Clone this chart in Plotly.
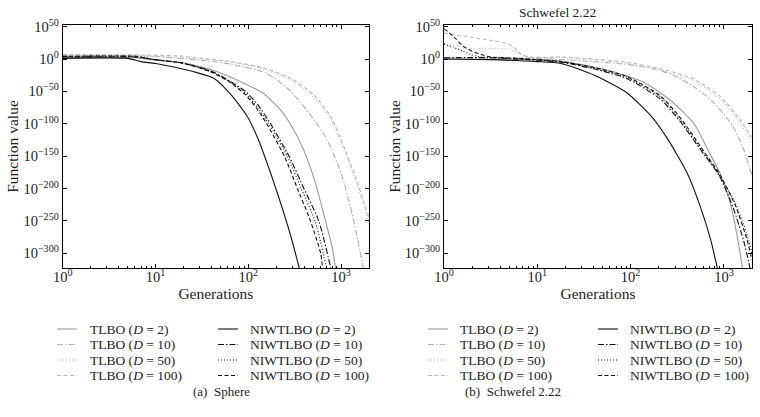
import math
import plotly.graph_objects as go

# ---------------- data (generations, log10 of function value) ----------------
# Sphere
sph_tlbo2_gen = [1, 6, 10, 20, 43, 98, 148, 224, 288, 389, 513, 661, 813, 871]
sph_tlbo2_exp = [2, 2, -2, -6, -18, -40, -54, -79, -102, -138, -185, -243, -295, -323]
sph_tlbo10_gen = [1, 6, 10, 32, 65, 158, 288, 513, 708, 1000, 1259, 1514, 1738]
sph_tlbo10_exp = [5, 5, 4, -2, -8, -22, -50, -94, -125, -176, -228, -279, -323]
sph_tlbo50_gen = [1, 10, 32, 65, 148, 288, 513, 776, 1072, 1413, 1778, 2000]
sph_tlbo50_exp = [5, 4, 0, -5, -16, -33, -60, -93, -140, -185, -230, -255]
sph_tlbo100_gen = [1, 10, 19, 32, 65, 148, 288, 513, 776, 1072, 1413, 1778, 2000]
sph_tlbo100_exp = [7, 6, 4.5, 1, -4, -14, -30, -56, -89, -135, -180, -222, -245]
sph_niw2_gen = [1, 5, 7, 10, 19, 28, 43, 65, 98, 129, 174, 224, 288, 355]
sph_niw2_exp = [1, 1, -4, -7, -15, -21, -30, -55, -89, -125, -176, -223, -274, -323]
sph_niw10_gen = [1, 6, 10, 19, 32, 43, 65, 93, 126, 174, 275, 398, 575, 776]
sph_niw10_exp = [3, 3, -1, -6, -14, -21, -35, -50, -70, -100, -150, -200, -250, -323]
sph_niw50_gen = [1, 6, 10, 19, 32, 43, 65, 93, 126, 166, 263, 372, 525, 700]
sph_niw50_exp = [4, 4, -1, -6, -15, -22, -36, -53, -75, -100, -150, -200, -250, -323]
sph_niw100_gen = [1, 6, 10, 19, 32, 43, 65, 93, 126, 158, 245, 339, 468, 603, 631]
sph_niw100_exp = [4, 4, -1, -6, -15, -22, -37, -55, -78, -100, -150, -200, -250, -300, -323]

# Schwefel 2.22
sch_tlbo2_gen = [1, 10, 18, 60, 138, 269, 479, 661, 933, 1202, 1413, 1585]
sch_tlbo2_exp = [0, -1, -3, -18, -36, -64, -100, -138, -180, -229, -280, -323]
sch_tlbo10_gen = [1, 10, 32, 100, 200, 316, 501, 724, 1000, 1259, 1585, 2000]
sch_tlbo10_exp = [2, 1, -3, -9, -17, -28, -45, -63, -85, -105, -135, -180]
sch_tlbo50_gen = [1, 1.8, 5.2, 7.4, 18, 40, 91, 209, 479, 933, 1514, 2000]
sch_tlbo50_exp = [24, 17, 15, 4, 2, -1, -7, -17, -34, -63, -100, -130]
sch_tlbo100_gen = [1, 3.1, 4.7, 5.6, 6.6, 8.3, 18, 40, 91, 209, 479, 933, 1514, 2000]
sch_tlbo100_exp = [40, 29, 24, 18, 8, 3, 3, 0, -5, -15, -31, -59, -95, -122]
sch_niw2_gen = [1, 3, 10, 18, 41, 91, 166, 251, 407, 562, 724, 851]
sch_niw2_exp = [0, -1, -4, -7, -25, -52, -88, -124, -177, -229, -280, -323]
sch_niw10_gen = [1, 3, 10, 18, 40, 91, 209, 347, 562, 891, 1259, 1660, 1905]
sch_niw10_exp = [2, 2, -2, -5, -15, -30, -62, -98, -140, -180, -230, -285, -323]
sch_niw50_gen = [1, 1.26, 1.6, 2, 2.5, 4, 10, 18, 40, 91, 209, 347, 562, 891, 1318, 1738, 2000]
sch_niw50_exp = [23, 18, 12, 6, 3, 2, -1, -4, -14, -28, -59, -95, -138, -179, -222, -268, -300]
sch_niw100_gen = [1, 1.26, 1.6, 2, 2.5, 3.2, 6.3, 10, 18, 40, 91, 209, 347, 562, 891, 1318, 1738, 2000]
sch_niw100_exp = [47, 35, 20, 12, 7, 3, 1, -1, -4, -13, -27, -57, -92, -135, -177, -225, -275, -310]

series_names_tlbo = ["TLBO (<i>D</i> = 2)", "TLBO (<i>D</i> = 10)", "TLBO (<i>D</i> = 50)", "TLBO (<i>D</i> = 100)"]
series_names_niw = ["NIWTLBO (<i>D</i> = 2)", "NIWTLBO (<i>D</i> = 10)", "NIWTLBO (<i>D</i> = 50)", "NIWTLBO (<i>D</i> = 100)"]

x_tick_vals = [1, 10, 100, 1000]
x_tick_text = ["10<sup>0</sup>", "10<sup>1</sup>", "10<sup>2</sup>", "10<sup>3</sup>"]
y_tick_exps = [50, 0, -50, -100, -150, -200, -250, -300]
y_tick_text = ["10<sup>50</sup>", "10<sup>0</sup>", "10<sup>\u221250</sup>", "10<sup>\u2212100</sup>",
               "10<sup>\u2212150</sup>", "10<sup>\u2212200</sup>", "10<sup>\u2212250</sup>", "10<sup>\u2212300</sup>"]

# ---------------- styles ----------------
FONT = "Liberation Serif"
TXT = "#222222"
DASHDOT = "6px,2px,1.5px,2px"
tlbo_styles = [("#9a9a9a", "solid"), ("#b0b0b0", DASHDOT),
               ("#bdbdbd", "1px,2px"), ("#b8b8b8", "4px,2.5px")]
niw_styles = [("#111111", "solid"), ("#111111", DASHDOT),
              ("#111111", "1px,2px"), ("#111111", "4px,2.5px")]

fig = go.Figure()

def add(gens, exps, name, style, xa, ya):
    color, dash = style
    fig.add_trace(go.Scatter(
        x=gens, y=[10.0 ** e for e in exps], mode="lines", name=name,
        line=dict(color=color, dash=dash, width=1.1, shape="spline", smoothing=0.6),
        xaxis=xa, yaxis=ya, showlegend=False, hoverinfo="skip"))

sph_tlbo = [(sph_tlbo2_gen, sph_tlbo2_exp), (sph_tlbo10_gen, sph_tlbo10_exp),
            (sph_tlbo50_gen, sph_tlbo50_exp), (sph_tlbo100_gen, sph_tlbo100_exp)]
sph_niw = [(sph_niw2_gen, sph_niw2_exp), (sph_niw10_gen, sph_niw10_exp),
           (sph_niw50_gen, sph_niw50_exp), (sph_niw100_gen, sph_niw100_exp)]
sch_tlbo = [(sch_tlbo2_gen, sch_tlbo2_exp), (sch_tlbo10_gen, sch_tlbo10_exp),
            (sch_tlbo50_gen, sch_tlbo50_exp), (sch_tlbo100_gen, sch_tlbo100_exp)]
sch_niw = [(sch_niw2_gen, sch_niw2_exp), (sch_niw10_gen, sch_niw10_exp),
           (sch_niw50_gen, sch_niw50_exp), (sch_niw100_gen, sch_niw100_exp)]

for i in range(4):
    add(*sph_tlbo[i], series_names_tlbo[i], tlbo_styles[i], "x", "y")
for i in range(4):
    add(*sph_niw[i], series_names_niw[i], niw_styles[i], "x", "y")
for i in range(4):
    add(*sch_tlbo[i], series_names_tlbo[i], tlbo_styles[i], "x2", "y2")
for i in range(4):
    add(*sch_niw[i], series_names_niw[i], niw_styles[i], "x2", "y2")

W, H = 760, 417
minor_vals = [m * 10 ** d for d in range(4) for m in range(2, 10) if m * 10 ** d <= 2000]

def xaxis(domain, anchor):
    return dict(type="log", domain=domain, anchor=anchor, range=[0, math.log10(2000)],
                automargin=False,
                tickmode="array", tickvals=x_tick_vals, ticktext=x_tick_text,
                ticks="inside", ticklen=4, tickcolor="black", showline=True, linecolor="black",
                linewidth=1, mirror="ticks", showgrid=False, zeroline=False,
                ticklabelstandoff=-4,
                tickfont=dict(family=FONT, size=14.5, color=TXT),
                minor=dict(tickmode="array", tickvals=minor_vals, ticks="inside", ticklen=2,
                           tickcolor="black", showgrid=False),
                title=dict(text="Generations", font=dict(family=FONT, size=15.5, color=TXT), standoff=2))

def yaxis(domain, anchor):
    return dict(type="log", domain=domain, anchor=anchor, range=[-322.6, 52.5],
                automargin=False,
                tickmode="array", tickvals=[10.0 ** e for e in y_tick_exps], ticktext=y_tick_text,
                ticks="inside", ticklen=4, tickcolor="black", showline=True, linecolor="black",
                linewidth=1, mirror="ticks", showgrid=False, zeroline=False,
                tickfont=dict(family=FONT, size=14.5, color=TXT),
                title=dict(text="Function value", font=dict(family=FONT, size=15.5, color=TXT), standoff=0))

ydom = [1 - 268 / H, 1 - 25 / H]
fig.update_layout(
    width=W, height=H, margin=dict(l=0, r=0, t=0, b=0, autoexpand=False),
    paper_bgcolor="white", plot_bgcolor="white",
    font=dict(family=FONT, size=13, color=TXT),
    hovermode=False,
    xaxis=xaxis([62.7 / W, 369 / W], "y"),
    yaxis=yaxis(ydom, "x"),
    xaxis2=xaxis([444 / W, 752 / W], "y2"),
    yaxis2=yaxis(ydom, "x2"),
)

# ---------------- legends (two columns per panel) ----------------
row_y = [329, 344.5, 360, 375.5]
columns = [  # (sample x0, sample x1, text x, names, styles)
    (57, 77, 88, series_names_tlbo, tlbo_styles),
    (218, 238, 248, series_names_niw, niw_styles),
    (428, 448, 458, series_names_tlbo, tlbo_styles),
    (598, 618, 628, series_names_niw, niw_styles),
]
for x0, x1, tx, names, styles in columns:
    for r in range(4):
        color, dash = styles[r]
        yy = 1 - row_y[r] / H
        fig.add_shape(type="line", xref="paper", yref="paper", x0=x0 / W, x1=x1 / W, y0=yy, y1=yy,
                      line=dict(color=color, width=1.1, dash=dash))
        fig.add_annotation(text=names[r], x=tx / W, y=yy, xref="paper", yref="paper",
                           xanchor="left", yanchor="middle", showarrow=False,
                           font=dict(family=FONT, size=13.5, color=TXT))

fig.add_annotation(text="Schwefel 2.22", x=598 / W, y=1 - 12 / H, xref="paper", yref="paper",
                   yanchor="middle", showarrow=False, font=dict(family=FONT, size=13.5, color=TXT))
fig.add_annotation(text="(a)  Sphere", x=191 / W, y=1 - 391 / H, xref="paper", yref="paper",
                   yanchor="middle", showarrow=False, font=dict(family=FONT, size=13, color=TXT))
fig.add_annotation(text="(b)  Schwefel 2.22", x=563 / W, y=1 - 391 / H, xref="paper", yref="paper",
                   yanchor="middle", showarrow=False, font=dict(family=FONT, size=13, color=TXT))

fig.write_html("out.html", config={"displayModeBar": False, "staticPlot": True},
               post_script="document.body.style.margin='0px';document.body.style.overflow='hidden';")
